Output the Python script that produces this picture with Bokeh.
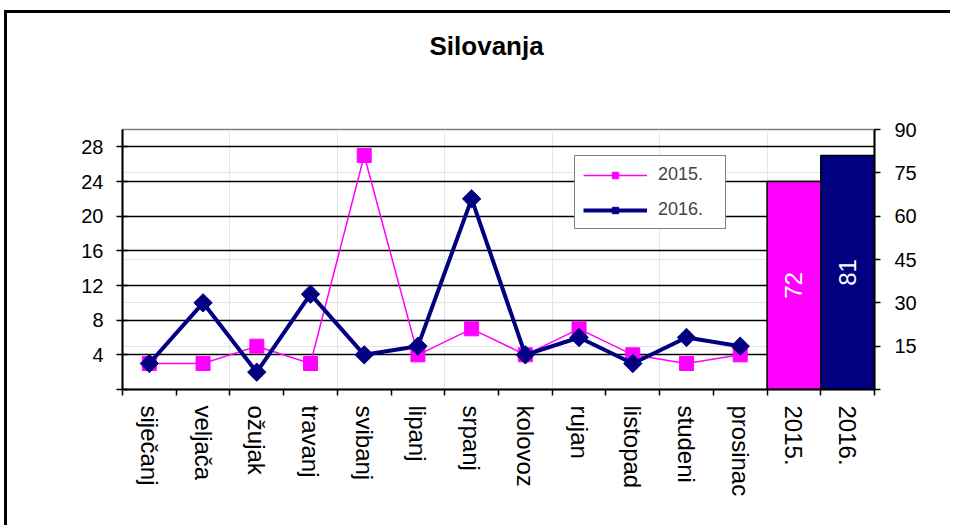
import math
from bokeh.plotting import figure
from bokeh.models import (Range1d, LinearAxis, FixedTicker, CustomJSTickFormatter, Legend,
                          LegendItem, Title, Grid)
from bokeh.core.properties import value
from bokeh.embed import file_html
from bokeh.resources import INLINE

title = "Silovanja"
months = ["siječanj", "veljača", "ožujak", "travanj", "svibanj", "lipanj", "srpanj",
          "kolovoz", "rujan", "listopad", "studeni", "prosinac"]
total_labels = ["2015.", "2016."]
series_names = ["2015.", "2016."]
series_2015 = [3, 3, 5, 3, 27, 4, 7, 4, 7, 4, 3, 4]
series_2016 = [3, 10, 2, 11, 4, 5, 22, 4, 6, 3, 6, 5]
totals = [72, 81]
left_ticks = [0, 4, 8, 12, 16, 20, 24, 28]
right_ticks = [0, 15, 30, 45, 60, 75, 90]

MAGENTA = "#FF00FF"
NAVY = "#000080"
FONT = "Liberation Sans"

categories = months + total_labels
n = len(categories)
month_x = [i + 0.5 for i in range(len(months))]
total_x = [len(months) + i + 0.5 for i in range(len(total_labels))]
centers = [i + 0.5 for i in range(n)]
bounds = list(range(n + 1))

W, H = 946, 515
p = figure(width=W, height=H, output_backend="svg", toolbar_location=None,
           x_range=Range1d(0, n), y_range=Range1d(0, 30),
           min_border_left=115, min_border_right=W - 867, min_border_top=116,
           min_border_bottom=139, x_axis_location=None, y_axis_location=None)
p.styles = {"margin-left": "7px", "margin-top": "13px",
            "box-shadow": "-3px -3px 0px 0px black"}
p.extra_y_ranges = {"tot": Range1d(0, 90)}
p.outline_line_color = "#808080"
p.outline_line_width = 1.5
p.background_fill_color = "white"
p.border_fill_color = "white"

# blank spacer title (nearest the frame) then the real title above it
spacer = Title(text="\u00a0", standoff=66, text_font=FONT, text_font_size="1px")
p.add_layout(spacer, "above")
ttl = Title(text=title, align="left", offset=307, standoff=0,
            text_font=FONT, text_font_style="bold", text_font_size="26px", text_color="black")
p.add_layout(ttl, "above")

p.add_layout(Grid(dimension=1, ticker=FixedTicker(ticks=left_ticks),
                  grid_line_color="black", grid_line_width=1.5))

def style_axis(ax, size="20px"):
    ax.axis_line_color = "black"
    ax.axis_line_width = 2
    ax.major_tick_line_color = "black"
    ax.major_tick_line_width = 1.5
    ax.major_label_text_font = FONT
    ax.major_label_text_font_size = size
    ax.major_label_text_color = "black"

xaxis = LinearAxis(ticker=FixedTicker(ticks=centers, minor_ticks=bounds),
                   formatter=CustomJSTickFormatter(args=dict(labels=categories),
                                                   code="return labels[Math.floor(tick)];"))
style_axis(xaxis, "24px")
xaxis.major_tick_line_color = None
xaxis.major_tick_out = 6
xaxis.major_tick_in = 0
xaxis.minor_tick_line_color = "black"
xaxis.minor_tick_line_width = 1.5
xaxis.minor_tick_out = 6
xaxis.minor_tick_in = 0
xaxis.major_label_orientation = "vertical"
xaxis.major_label_standoff = 10
p.add_layout(xaxis, "below")

yaxis = LinearAxis(ticker=FixedTicker(ticks=left_ticks),
                   formatter=CustomJSTickFormatter(code="return tick == 0 ? '' : String(tick);"))
style_axis(yaxis)
yaxis.major_tick_out = 6
yaxis.major_tick_in = 5
yaxis.major_label_standoff = 13
p.add_layout(yaxis, "left")

raxis = LinearAxis(y_range_name="tot", ticker=FixedTicker(ticks=right_ticks),
                   formatter=CustomJSTickFormatter(code="return tick == 0 ? '' : String(tick);"))
style_axis(raxis)
raxis.major_tick_out = 6
raxis.major_tick_in = 0
raxis.major_label_standoff = 14
p.add_layout(raxis, "right")

# total bars
p.vbar(x=total_x, top=totals, bottom=0, width=1, y_range_name="tot",
       fill_color=[MAGENTA, NAVY], line_color="black", line_width=1.5)
p.text(x=total_x, y=[t / 2 for t in totals], text=[str(t) for t in totals],
       y_range_name="tot", angle=math.pi / 2, text_align="center", text_baseline="middle",
       text_color="white", text_font=value(FONT), text_font_size="24px")

# monthly lines
r1l = p.line(month_x, series_2015, line_color=MAGENTA, line_width=1.5)
r1s = p.scatter(month_x, series_2015, marker="square", size=14,
                fill_color=MAGENTA, line_color=MAGENTA)
r2l = p.line(month_x, series_2016, line_color=NAVY, line_width=4)
r2s = p.scatter(month_x, series_2016, marker="square", angle=math.pi / 4, size=13,
                fill_color=NAVY, line_color=NAVY)

legend = Legend(items=[LegendItem(label=series_names[0], renderers=[r1l, r1s]),
                       LegendItem(label=series_names[1], renderers=[r2l, r2s])],
                location=(452, 160), margin=0, padding=8, spacing=14,
                glyph_width=64, glyph_height=16, label_height=16, label_width=59,
                label_standoff=11, border_line_color="black", border_line_width=1.5,
                background_fill_color="white", background_fill_alpha=1,
                label_text_font=FONT, label_text_font_size="18px")
p.add_layout(legend)

open("out.html", "w").write(file_html(p, INLINE))
